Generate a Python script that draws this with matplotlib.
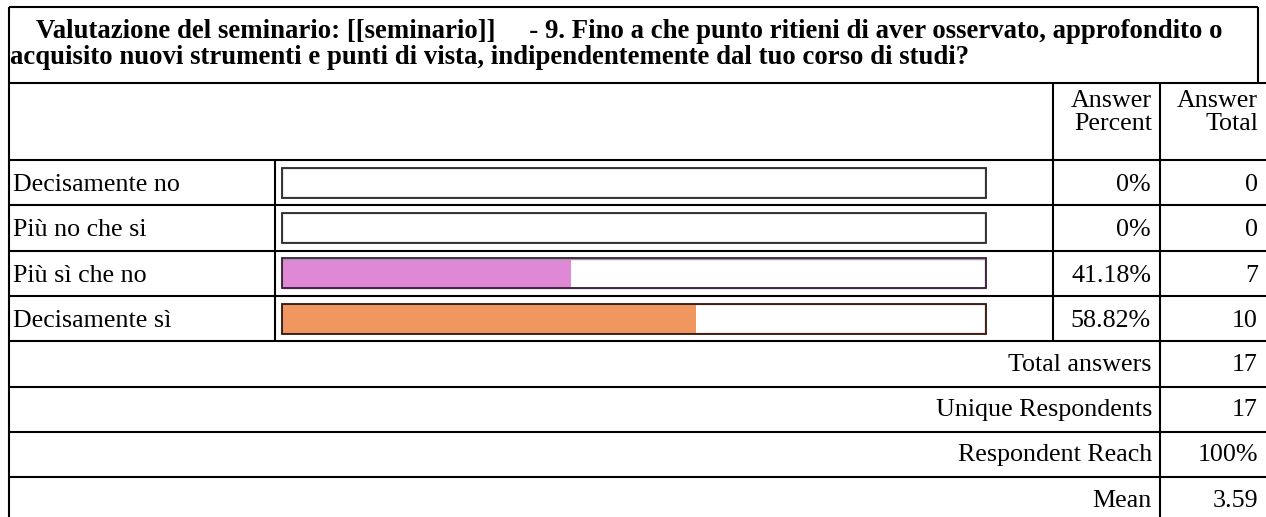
import matplotlib.pyplot as plt
from matplotlib.patches import Rectangle

# --- dati della tabella ---
title_lines = ["Valutazione del seminario: [[seminario]]     - 9. Fino a che punto ritieni di aver osservato, approfondito o",
               "acquisito nuovi strumenti e punti di vista, indipendentemente dal tuo corso di studi?"]
categories = ["Decisamente no", "Più no che si", "Più sì che no", "Decisamente sì"]
percents = [0.0, 0.0, 41.18, 58.82]
percent_labels = ["0%", "0%", "41.18%", "58.82%"]
totals = [0, 0, 7, 10]
bar_colors = ["#ffffff", "#ffffff", "#de88d6", "#f0965f"]
bar_edges = ["#2a2a2a", "#2a2a2a", "#3a1a38", "#3a1408"]
summary_labels = ["Total answers", "Unique Respondents", "Respondent Reach", "Mean"]
summary_values = ["17", "17", "100%", "3.59"]

plt.rcParams['font.family'] = ['Liberation Serif', 'DejaVu Serif']

W, H = 1266, 517
fig = plt.figure(figsize=(W / 100, H / 100), dpi=100)
ax = fig.add_axes([0, 0, 1, 1])
ax.set_xlim(0, W)
ax.set_ylim(H, 0)
ax.axis('off')

LW = 1.5
K = 'black'
FS = 18.7   # testo normale
FT = 19.3   # titolo

# colonne (pixel)
x_left, x_lab, x_bar, x_pct, x_right = 9, 275, 1053, 1160, 1270
y_title, y_head, y_rows = 7, 83, 160
row_h = 45.3

def hline(y, x0=x_left, x1=x_right):
    ax.plot([x0, x1], [y, y], color=K, lw=LW, solid_capstyle='butt')

def vline(x, y0, y1):
    ax.plot([x, x], [y0, y1], color=K, lw=LW, solid_capstyle='butt')

# --- titolo ---
hline(y_title, x_left, 1258)
vline(1258, y_title, y_head)
ax.text(36, 38, title_lines[0], fontsize=FT, fontweight='bold', va='baseline', ha='left')
ax.text(10, 64, title_lines[1], fontsize=FT, fontweight='bold', va='baseline', ha='left')

# --- intestazione ---
hline(y_head)
ax.text(x_pct - 8, 107, "Answer", fontsize=FS, ha='right', va='baseline')
ax.text(x_pct - 8, 130, "Percent", fontsize=FS, ha='right', va='baseline')
ax.text(x_right - 12, 107, "Answer", fontsize=FS, ha='right', va='baseline')
ax.text(x_right - 12, 130, "Total", fontsize=FS, ha='right', va='baseline')

# --- righe con barre ---
bar_x0, bar_w = 282, 703
n = len(categories)
ys = [y_rows + row_h * (i + 0.5) for i in range(n)]
ax.barh(ys, [p / 100 * bar_w for p in percents], left=bar_x0, height=29,
        color=bar_colors, edgecolor='none', zorder=2)
for i in range(n):
    yc = ys[i]
    ax.add_patch(Rectangle((bar_x0, yc - 14.5), bar_w, 29, facecolor='none',
                           edgecolor='#9a9a9a', lw=1.0, zorder=3))
    ax.add_patch(Rectangle((bar_x0 - 0.5, yc - 15), bar_w + 1, 30, facecolor='none',
                           edgecolor=bar_edges[i], lw=1.3, zorder=4))
    ax.text(13, yc + 8.5, categories[i], fontsize=FS, ha='left', va='baseline')
    ax.text(x_pct - 9, yc + 8.5, percent_labels[i], fontsize=FS, ha='right', va='baseline')
    ax.text(x_right - 12, yc + 8.5, str(totals[i]), fontsize=FS, ha='right', va='baseline')
    hline(y_rows + row_h * i)
y_end = y_rows + row_h * n
hline(y_end)
vline(x_lab, y_rows, y_end)
vline(x_bar, y_head, y_end)
vline(x_pct, y_head, y_end + 4)

# --- riepilogo ---
for j in range(len(summary_labels)):
    yc = y_end + row_h * (j + 0.5)
    ax.text(x_pct - 8, yc + 7, summary_labels[j], fontsize=FS, ha='right', va='baseline')
    ax.text(x_right - 12, yc + 7, summary_values[j], fontsize=FS, ha='right', va='baseline')
    if j > 0:
        hline(y_end + row_h * j)
vline(x_pct, y_end, H + 5)
vline(x_left, y_title, H + 5)

fig.savefig('out.png', dpi=100)
